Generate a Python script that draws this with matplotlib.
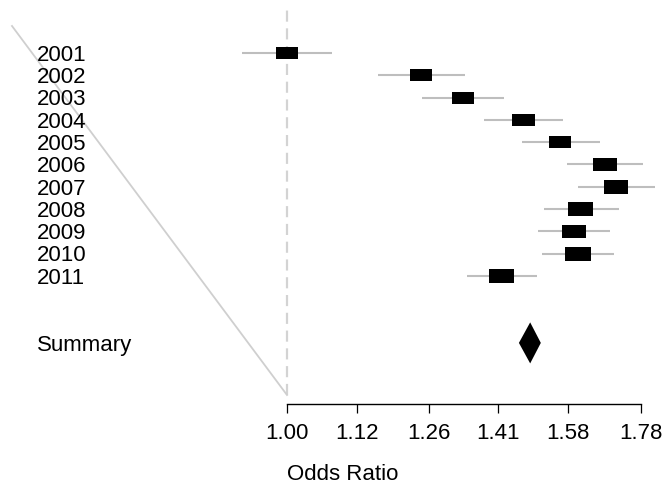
import numpy as np
import matplotlib.pyplot as plt
from matplotlib.path import Path

plt.rcParams['font.family'] = ['Liberation Sans', 'DejaVu Sans']

years = ["2001", "2002", "2003", "2004", "2005", "2006",
         "2007", "2008", "2009", "2010", "2011"]
odds_ratio = [1.00, 1.244, 1.332, 1.469, 1.560, 1.678, 1.709, 1.614, 1.596, 1.606, 1.419]
ci_lower = [0.929, 1.160, 1.246, 1.378, 1.466, 1.578, 1.606, 1.520, 1.505, 1.515, 1.341]
ci_upper = [1.076, 1.336, 1.424, 1.568, 1.665, 1.786, 1.821, 1.717, 1.692, 1.703, 1.503]
weights = [0.81, 0.85, 0.85, 0.88, 0.88, 0.92, 0.96, 0.96, 0.92, 1.00, 0.96]

summary_label = "Summary"
summary_or = 1.486
summary_lower = 1.459
summary_upper = 1.512

tick_labels = ["1.00", "1.12", "1.26", "1.41", "1.58", "1.78"]

fig = plt.figure(figsize=(6.67, 4.84), dpi=100)
ax = fig.add_axes([287 / 667, 80 / 484, 354 / 667, 404 / 484])
ax.set_xscale("log")
ax.set_xlim(1.0, 1.78)
# rows are 22.3 px apart, first row 53 px from the top
ax.set_ylim((404 - 53) / 22.3, -53 / 22.3)

rows = np.arange(len(years))
summary_row = len(years) + 2

# reference line at OR = 1
ax.axvline(1.0, ymin=9 / 404, ymax=396 / 404, color="#d3d3d3", lw=1.6,
           dashes=(5, 3), clip_on=False, zorder=1)

# the long grey diagonal on the left
ax.plot([(12 - 287) / 354, 0], [(404 - 26) / 404, 9 / 404], color="#cfcfcf",
        lw=1.3, transform=ax.transAxes, clip_on=False, zorder=1)

# confidence intervals
ax.hlines(rows, ci_lower, ci_upper, color="#bebebe", lw=1.5, clip_on=False, zorder=2)

# boxes, wider than tall
box = Path([(-1, -0.55), (1, -0.55), (1, 0.55), (-1, 0.55), (-1, -0.55)],
           [Path.MOVETO, Path.LINETO, Path.LINETO, Path.LINETO, Path.CLOSEPOLY])
box_pts = 26 * 0.72
sizes = [(w * box_pts) ** 2 for w in weights]
ax.scatter(odds_ratio, rows, s=sizes, marker=box, color="black",
           linewidths=0, clip_on=False, zorder=3)

# summary diamond
h = 0.92
ax.fill([summary_lower, summary_or, summary_upper, summary_or],
        [summary_row, summary_row - h, summary_row, summary_row + h],
        color="black", lw=0, zorder=3)

# row labels
label_x = (37 - 287) / 354
for r, name in zip(rows, years):
    ax.text(label_x, r + 0.1, name, transform=ax.get_yaxis_transform(),
            ha="left", va="center", fontsize=16)
ax.text(label_x, summary_row + 0.1, summary_label, transform=ax.get_yaxis_transform(),
        ha="left", va="center", fontsize=16)

# x axis
for side in ["top", "right", "left"]:
    ax.spines[side].set_visible(False)
ax.spines["bottom"].set_bounds(1.0, 1.78)
ax.spines["bottom"].set_linewidth(1.0)
ax.set_yticks([])
ax.set_xticks([float(t) for t in tick_labels])
ax.set_xticklabels(tick_labels)
ax.xaxis.set_minor_locator(plt.NullLocator())
ax.tick_params(axis="x", direction="out", length=6.5, width=0.9,
               pad=7, labelsize=16)

ax.text(1.0, -0.175, "Odds Ratio", transform=ax.get_xaxis_transform(),
        ha="left", va="center", fontsize=16)

fig.savefig("out.png", dpi=100)
